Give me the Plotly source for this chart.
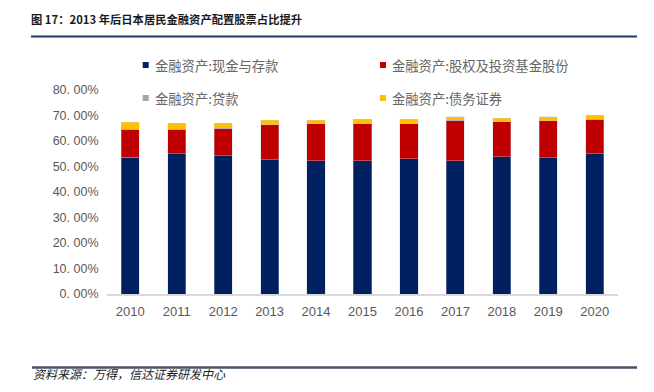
import plotly.graph_objects as go

years = ["2010", "2011", "2012", "2013", "2014", "2015", "2016", "2017", "2018", "2019", "2020"]
cash_deposits = [0.537, 0.550, 0.542, 0.527, 0.523, 0.523, 0.531, 0.523, 0.539, 0.535, 0.550]
equity_funds = [0.109, 0.097, 0.108, 0.137, 0.144, 0.145, 0.137, 0.158, 0.137, 0.145, 0.135]
loans = [0.0, 0.0, 0.0, 0.0, 0.0, 0.0, 0.0, 0.0, 0.0, 0.0, 0.0]
bonds = [0.027, 0.022, 0.019, 0.018, 0.015, 0.017, 0.017, 0.014, 0.014, 0.015, 0.016]

series_names = ["金融资产:现金与存款", "金融资产:股权及投资基金股份", "金融资产:贷款", "金融资产:债务证券"]
series_colors = ["#002060", "#C00000", "#A5A5A5", "#FFC000"]
series_values = [cash_deposits, equity_funds, loans, bonds]

y_tickvals = [0, 0.1, 0.2, 0.3, 0.4, 0.5, 0.6, 0.7, 0.8]
y_ticktext = ["0. 00%", "10. 00%", "20. 00%", "30. 00%", "40. 00%", "50. 00%", "60. 00%", "70. 00%", "80. 00%"]

title_text = "图 17：2013 年后日本居民金融资产配置股票占比提升"
source_text = "资料来源：万得，信达证券研发中心"

OFF = 8  # page body margin
W, H = 654 - 2 * OFF, 392 - 2 * OFF
# plot area in page pixels: x 107..618, y 90..294
L = 107 - OFF
R = W - (618 - OFF)
T = 90 - OFF
B = H - (294 - OFF)
PW, PH = W - L - R, H - T - B


def px(x):
    return (x - OFF - L) / PW


def py(y):
    return (H - B - (y - OFF)) / PH


fig = go.Figure()
for name, color, vals in zip(series_names, series_colors, series_values):
    fig.add_trace(go.Bar(
        x=years, y=vals, name=name, showlegend=False,
        marker=dict(color=color, line=dict(color="rgba(200,200,220,0.6)", width=0.6)),
    ))

annotations = []
shapes = []
legend_pos = [(145.7, 65, 153), (383, 65, 390), (145.7, 98, 153), (383, 98, 390)]
for (mx, my, tx), name, color in zip(legend_pos, series_names, series_colors):
    shapes.append(dict(type="rect", xref="paper", yref="paper",
                       x0=px(mx - 3), x1=px(mx + 3), y0=py(my + 3), y1=py(my - 3),
                       fillcolor=color, line=dict(width=0)))
    annotations.append(dict(text=name, xref="paper", yref="paper", x=px(tx), y=py(my),
                            xanchor="left", yanchor="middle", showarrow=False,
                            font=dict(size=13.3, color="#666666",
                                      family="Noto Sans CJK SC, sans-serif")))

annotations.append(dict(text="<b>" + title_text + "</b>", xref="paper", yref="paper",
                        x=px(29), y=py(8.5), xanchor="left", yanchor="top", showarrow=False,
                        font=dict(size=11.3, color="#1a1a1a",
                                  family="Noto Sans CJK SC, sans-serif")))
annotations.append(dict(text="<i>" + source_text + "</i>", xref="paper", yref="paper",
                        x=px(31), y=py(383.5), xanchor="left", yanchor="bottom", showarrow=False,
                        font=dict(size=12, color="#1a1a1a",
                                  family="Noto Sans CJK SC, sans-serif")))

shapes.append(dict(type="line", xref="paper", yref="paper", x0=px(31), x1=px(637),
                   y0=py(36.5), y1=py(36.5), line=dict(color="#1F3864", width=2)))
shapes.append(dict(type="line", xref="paper", yref="paper", x0=px(32), x1=px(637),
                   y0=py(367.5), y1=py(367.5), line=dict(color="#44546A", width=2.5)))

fig.update_layout(
    width=W, height=H,
    margin=dict(l=L, r=R, t=T, b=B),
    barmode="stack", bargap=0.61,
    plot_bgcolor="white", paper_bgcolor="white",
    annotations=annotations, shapes=shapes,
    font=dict(family="Liberation Sans, Arial, sans-serif", color="#595959"),
)
fig.update_xaxes(
    showgrid=False, showline=True, linecolor="#D9D9D9", linewidth=1.5,
    ticks="outside", ticklen=5, tickcolor="rgba(0,0,0,0)",
    tickfont=dict(size=13, color="#595959"),
    range=[-0.5, 10.5],
)
fig.update_yaxes(
    range=[0, 0.8], showgrid=False, zeroline=False, showline=False,
    tickvals=y_tickvals, ticktext=y_ticktext,
    ticks="outside", ticklen=5, tickcolor="rgba(0,0,0,0)",
    tickfont=dict(size=12.5, color="#595959"),
)

fig.write_html("out.html")
